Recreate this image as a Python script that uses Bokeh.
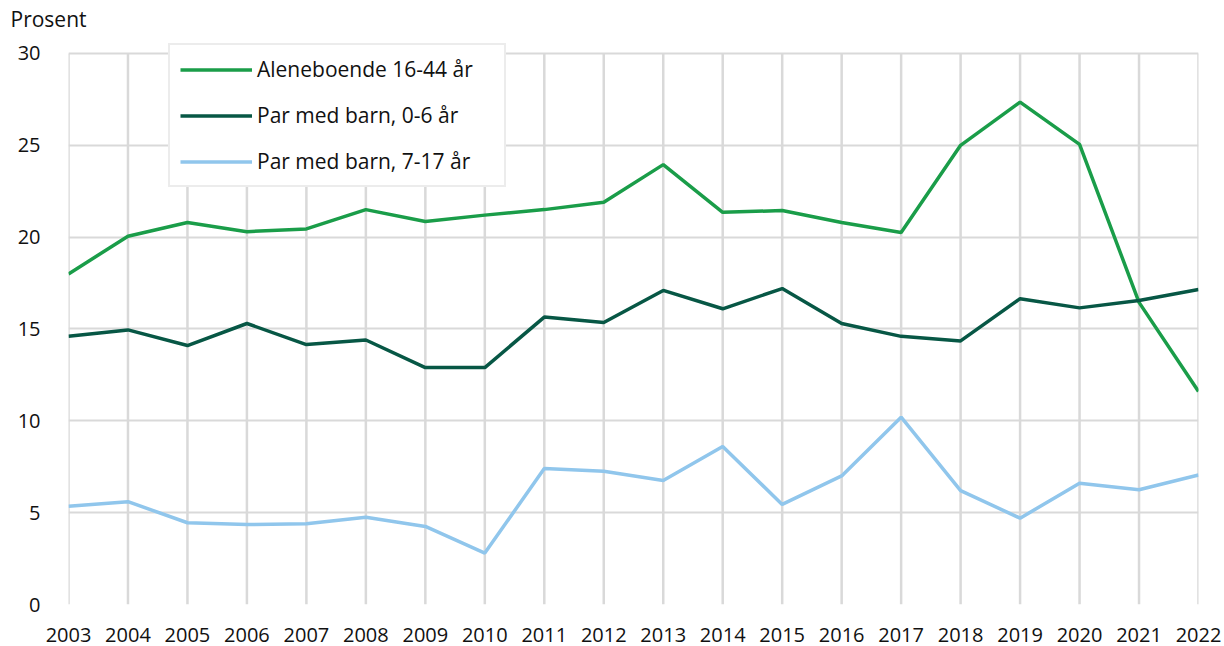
from bokeh.plotting import figure
from bokeh.models import Legend, LegendItem, FixedTicker, ColumnDataSource
from bokeh.embed import file_html
from bokeh.resources import INLINE

years = list(range(2003, 2023))
aleneboende = [18.0, 20.05, 20.8, 20.3, 20.45, 21.5, 20.85, 21.2, 21.5, 21.9,
               23.95, 21.35, 21.45, 20.8, 20.25, 25.0, 27.35, 25.05, 16.45, 11.6]
par_0_6 = [14.6, 14.95, 14.1, 15.3, 14.15, 14.4, 12.9, 12.9, 15.65, 15.35,
           17.1, 16.1, 17.2, 15.3, 14.6, 14.35, 16.65, 16.15, 16.55, 17.15]
par_7_17 = [5.35, 5.6, 4.45, 4.35, 4.4, 4.75, 4.25, 2.8, 7.4, 7.25,
            6.75, 8.6, 5.45, 7.0, 10.2, 6.2, 4.7, 6.6, 6.25, 7.05]
series_names = ["Aleneboende 16-44 år", "Par med barn, 0-6 år", "Par med barn, 7-17 år"]
colors = ["#1a9d49", "#075745", "#90c6ec"]
y_ticks = [0, 5, 10, 15, 20, 25, 30]
y_min, y_max = 0, 30

FONT = "Open Sans"

# headroom above 30 so the legend box can sit above the top gridline
p = figure(width=1224, height=646, x_range=(2003, 2022), y_range=(y_min, y_max + 0.98),
           output_backend="svg", toolbar_location=None,
           min_border_left=68, min_border_right=26, min_border_top=34, min_border_bottom=42)

p.outline_line_color = None
p.background_fill_color = "white"
p.border_fill_color = "white"

# title "Prosent"
p.title.text = "Prosent"
p.title.align = "left"
p.title.offset = -58
p.title.text_font = FONT
p.title.text_font_size = "21px"
p.title.text_font_style = "normal"
p.title.text_color = "#111111"
p.title.standoff = 5

for ax in (p.xaxis[0], p.yaxis[0]):
    ax.axis_line_color = None
    ax.major_tick_line_color = None
    ax.minor_tick_line_color = None
    ax.major_label_text_font = FONT
    ax.major_label_text_font_size = "20px"
    ax.major_label_text_color = "#111111"

p.xaxis[0].ticker = FixedTicker(ticks=years)
p.xaxis[0].major_label_standoff = 17
p.yaxis[0].ticker = FixedTicker(ticks=y_ticks)
p.yaxis[0].major_label_standoff = 22

# horizontal grid
p.xgrid.visible = False
p.ygrid.ticker = FixedTicker(ticks=y_ticks)
p.ygrid[0].grid_line_color = "#d9d9d9"
p.ygrid[0].grid_line_width = 2

# vertical grid lines only between 0 and 30
p.segment(x0=years, y0=[y_min] * len(years), x1=years, y1=[y_max] * len(years),
          line_color="#d9d9d9", line_width=2.5)

renderers = []
for vals, c in zip([aleneboende, par_0_6, par_7_17], colors):
    src = ColumnDataSource(dict(x=years, y=vals))
    r = p.line("x", "y", source=src, line_color=c, line_width=3.5)
    renderers.append(r)

legend = Legend(items=[LegendItem(label=n, renderers=[r]) for n, r in zip(series_names, renderers)],
                location=(100, 417),
                glyph_width=72, glyph_height=25, label_height=25,
                label_standoff=5, spacing=18, padding=10, margin=0,
                label_width=237,
                label_text_font=FONT, label_text_font_size="21px", label_text_color="#111111",
                border_line_color="#d9d9d9", border_line_width=2,
                background_fill_color="white", background_fill_alpha=1.0)
p.add_layout(legend, "center")

open("out.html", "w").write(file_html(p, INLINE))
